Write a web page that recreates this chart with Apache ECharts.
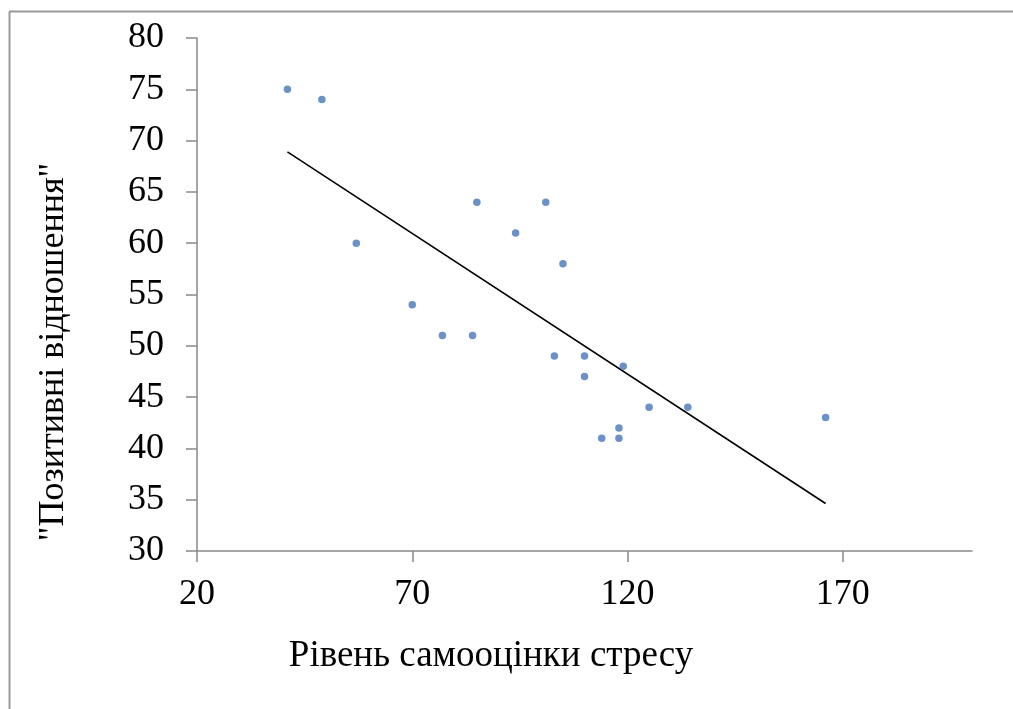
<!DOCTYPE html>
<html>
<head>
<meta charset="utf-8">
<script src="https://cdn.jsdelivr.net/npm/echarts@6/dist/echarts.min.js"></script>
<style>
  html, body { margin: 0; padding: 0; background: #fff; }
  #chart { width: 1013px; height: 709px; }
</style>
</head>
<body>
<div id="chart"></div>
<script>
// Stress self-assessment score vs. "positive relations" score
const stressLevel = [41, 49, 57, 70, 77, 84, 85, 94, 101, 105, 103, 110, 110, 119, 114, 118, 118, 125, 134, 166];
const positiveRelations = [75, 74, 60, 54, 51, 51, 64, 61, 64, 58, 49, 49, 47, 48, 41, 42, 41, 44, 44, 43];
const xTickValues = [20, 70, 120, 170];
const xTitle = 'Рівень самооцінки стресу';
const yTitle = '"Позитивні відношення"';

const points = stressLevel.map((x, i) => [x, positiveRelations[i]]);

// Least-squares linear trend over the observed points
const n = stressLevel.length;
const mx = stressLevel.reduce((a, b) => a + b, 0) / n;
const my = positiveRelations.reduce((a, b) => a + b, 0) / n;
let sxy = 0, sxx = 0;
for (let i = 0; i < n; i++) {
  sxy += (stressLevel[i] - mx) * (positiveRelations[i] - my);
  sxx += (stressLevel[i] - mx) * (stressLevel[i] - mx);
}
const slope = sxy / sxx;
const intercept = my - slope * mx;
const xMin = Math.min(...stressLevel), xMax = Math.max(...stressLevel);
const trend = [[xMin, intercept + slope * xMin], [xMax, intercept + slope * xMax]];

const FONT = '"Liberation Serif", "Times New Roman", serif';
const AXIS_GRAY = '#898989';

const chart = echarts.init(document.getElementById('chart'), null, { renderer: 'canvas' });
chart.setOption({
  animation: false,
  backgroundColor: '#fff',
  grid: { left: 197, right: 41, top: 38, bottom: 158, containLabel: false },
  xAxis: {
    type: 'value',
    min: 20, max: 200, interval: 50,
    axisLine: { show: true, lineStyle: { color: AXIS_GRAY, width: 1.5 } },
    axisTick: { show: true, length: 11, customValues: xTickValues, lineStyle: { color: AXIS_GRAY, width: 1.5 } },
    axisLabel: { customValues: xTickValues, margin: 26, color: '#000', fontFamily: FONT, fontSize: 36 },
    splitLine: { show: false }
  },
  yAxis: {
    type: 'value',
    min: 30, max: 80, interval: 5,
    axisLine: { show: true, lineStyle: { color: AXIS_GRAY, width: 1.5 } },
    axisTick: { show: true, length: 11, lineStyle: { color: AXIS_GRAY, width: 1.5 } },
    axisLabel: { margin: 33, color: '#000', fontFamily: FONT, fontSize: 36 },
    splitLine: { show: false }
  },
  series: [
    {
      type: 'scatter',
      data: points,
      symbol: 'circle',
      symbolSize: 7.5,
      itemStyle: { color: '#4677B8' },
      z: 3
    },
    {
      type: 'line',
      data: trend,
      symbol: 'none',
      lineStyle: { color: '#000', width: 1.6 },
      z: 2
    }
  ],
  graphic: [
    // Outer frame (left and top edges)
    { type: 'line', shape: { x1: 9.5, y1: 11.5, x2: 9.5, y2: 709 }, style: { stroke: '#999', lineWidth: 2 } },
    { type: 'line', shape: { x1: 9, y1: 11.5, x2: 1013, y2: 11.5 }, style: { stroke: '#999', lineWidth: 2 } },
    {
      type: 'text', x: 491, y: 656,
      style: { text: xTitle, font: '37px ' + FONT, fill: '#000', textAlign: 'center', textVerticalAlign: 'middle' }
    },
    {
      type: 'text', x: 54, y: 352, rotation: Math.PI / 2,
      style: { text: yTitle, font: '36px ' + FONT, fill: '#000', textAlign: 'center', textVerticalAlign: 'middle' }
    }
  ]
});
</script>
</body>
</html>
